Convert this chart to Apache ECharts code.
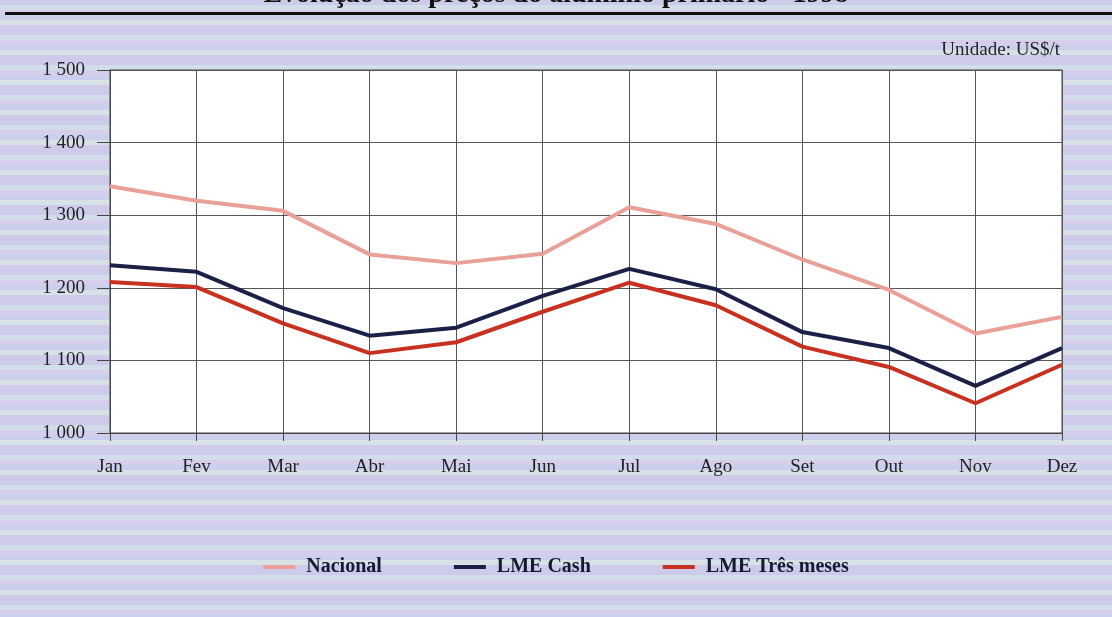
<!DOCTYPE html>
<html>
<head>
<meta charset="utf-8">
<script src="https://cdn.jsdelivr.net/npm/echarts@6/dist/echarts.min.js"></script>
<style>
  html, body { margin: 0; padding: 0; }
  #main { width: 1112px; height: 617px; }
</style>
</head>
<body>
<div id="main"></div>
<script>
// meses
var meses = ['Jan', 'Fev', 'Mar', 'Abr', 'Mai', 'Jun', 'Jul', 'Ago', 'Set', 'Out', 'Nov', 'Dez'];
// preços (US$/t)
var nacional = [1340, 1320, 1306, 1246, 1234, 1247, 1311, 1288, 1239, 1197, 1137, 1160];
var lmeCash = [1231, 1222, 1172, 1134, 1145, 1189, 1226, 1198, 1139, 1117, 1065, 1117];
var lmeTresMeses = [1208, 1201, 1151, 1110, 1125, 1167, 1207, 1176, 1119, 1091, 1041, 1094];

var serif = '"Liberation Serif", "DejaVu Serif", serif';

// faixas do fundo (cores do papel)
var faixas = [];
var coresFaixa = ['#cccbe9', '#d3dde9', '#d6cfec', '#c9cfec', '#d8e1e6', '#cfcaea'];
for (var i = 0; i < 617; i += 5) {
    faixas.push({
        type: 'rect',
        silent: true,
        z: -10,
        shape: { x: 0, y: i, width: 1112, height: 5 },
        style: { fill: coresFaixa[(i / 5) % coresFaixa.length] }
    });
}

var myChart = echarts.init(document.getElementById('main'));

myChart.setOption({
    backgroundColor: '#d0d2ec',
    animation: false,
    graphic: faixas.concat([
        {
            type: 'text',
            left: 'center',
            top: -19,
            style: {
                text: 'Evolução dos preços do alumínio primário - 1998',
                font: 'bold 28px ' + serif,
                fill: '#111'
            }
        },
        {
            type: 'rect',
            shape: { x: 5, y: 12, width: 1107, height: 3 },
            style: { fill: '#111' }
        },
        {
            type: 'text',
            right: 52,
            top: 41,
            style: {
                text: 'Unidade: US$/t',
                font: '19px ' + serif,
                fill: '#222'
            }
        }
    ]),
    grid: {
        left: 110,
        right: 50,
        top: 70,
        bottom: 184,
        show: true,
        backgroundColor: '#ffffff',
        borderColor: '#444',
        borderWidth: 1
    },
    legend: {
        bottom: 35,
        left: 'center',
        itemGap: 72,
        itemWidth: 32,
        itemHeight: 4,
        icon: 'rect',
        textStyle: {
            fontFamily: serif,
            fontWeight: 'bold',
            fontSize: 20,
            color: '#151a33',
            padding: [0, 0, 0, 6]
        },
        data: ['Nacional', 'LME Cash', 'LME Três meses']
    },
    xAxis: {
        type: 'category',
        boundaryGap: false,
        data: meses,
        axisLine: { lineStyle: { color: '#444', width: 1 } },
        axisTick: { show: true, length: 8, lineStyle: { color: '#444' } },
        axisLabel: {
            margin: 25,
            fontFamily: serif,
            fontSize: 19,
            color: '#222'
        },
        splitLine: { show: true, lineStyle: { color: '#555', width: 1 } }
    },
    yAxis: {
        type: 'value',
        min: 1000,
        max: 1500,
        interval: 100,
        axisLine: { show: true, lineStyle: { color: '#444', width: 1 } },
        axisTick: { show: true, length: 13, lineStyle: { color: '#444' } },
        axisLabel: {
            margin: 25,
            fontFamily: serif,
            fontSize: 19,
            color: '#222',
            formatter: function (v) {
                return String(v).replace(/\B(?=(\d{3})+(?!\d))/g, ' ');
            }
        },
        splitLine: { show: true, lineStyle: { color: '#555', width: 1 } }
    },
    series: [
        {
            name: 'Nacional',
            type: 'line',
            data: nacional,
            symbol: 'none',
            color: '#e8a098',
            lineStyle: { width: 4, color: '#e8a098' }
        },
        {
            name: 'LME Cash',
            type: 'line',
            data: lmeCash,
            symbol: 'none',
            color: '#1b2146',
            lineStyle: { width: 4, color: '#1b2146' }
        },
        {
            name: 'LME Três meses',
            type: 'line',
            data: lmeTresMeses,
            symbol: 'none',
            color: '#c8301f',
            lineStyle: { width: 4, color: '#c8301f' }
        }
    ]
});
</script>
</body>
</html>
